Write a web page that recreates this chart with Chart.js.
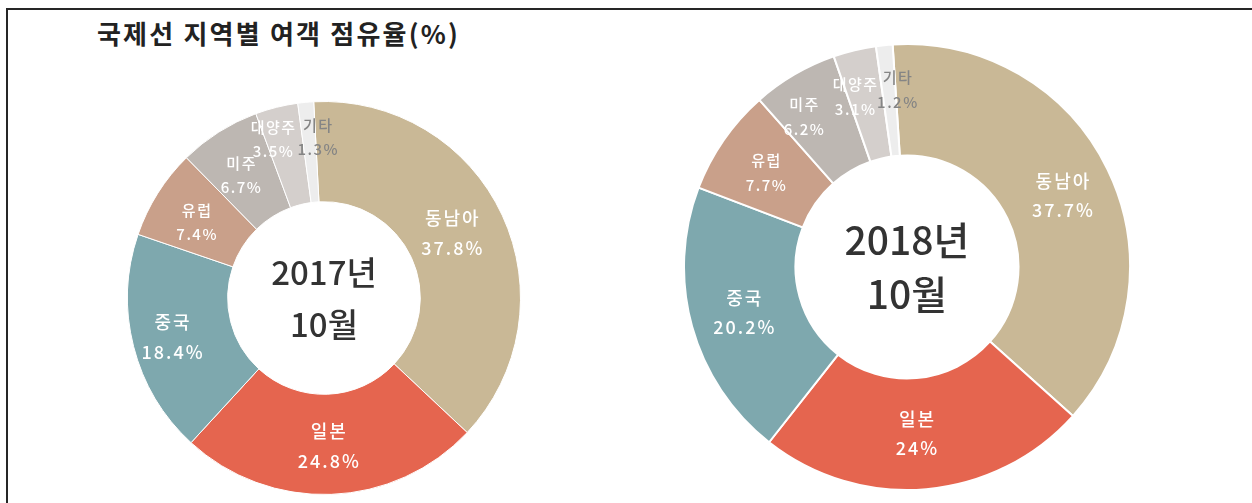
<!DOCTYPE html>
<html>
<head>
<meta charset="utf-8">
<script src="https://cdn.jsdelivr.net/npm/chart.js@4/dist/chart.umd.min.js"></script>
<style>
  html, body { margin:0; padding:0; background:#fff; width:1252px; height:503px; overflow:hidden; }
  #frame { position:absolute; left:6px; top:8px; width:1300px; height:600px; border-left:2px solid #262626; border-top:2px solid #262626; }
  #title { position:absolute; left:97px; top:19px; font: bold 26px "Noto Sans CJK KR", sans-serif; line-height:28px; color:#222; letter-spacing:2.2px; white-space:nowrap; }
  canvas { position:absolute; }
  #c1 { left:127px; top:101px; }
  #c2 { left:683px; top:43px; }
</style>
</head>
<body>
<div id="frame"></div>
<div id="title">국제선 지역별 여객 점유율(%)</div>
<canvas id="c1" width="394" height="394"></canvas>
<canvas id="c2" width="448" height="448"></canvas>
<script>
// ---- data ----
const regions = ['동남아', '일본', '중국', '유럽', '미주', '대양주', '기타'];
const share2017 = [37.8, 24.8, 18.4, 7.4, 6.7, 3.5, 1.3];
const share2018 = [37.7, 24, 20.2, 7.7, 6.2, 3.1, 1.2];
const centerTitle2017 = ['2017년', '10월'];
const centerTitle2018 = ['2018년', '10월'];

// ---- style ----
const sliceColors = ['#C9B896', '#E5654F', '#7EA8AE', '#C9A08A', '#BDB7B2', '#D4CFCC', '#EDEDED'];
const labelColors = ['#ffffff', '#ffffff', '#ffffff', '#ffffff', '#ffffff', '#ffffff', '#858585'];
const FONT = '"Noto Sans CJK KR", "Noto Sans", sans-serif';

const labelPlugin = {
  id: 'sliceLabels',
  afterDatasetsDraw(chart, args, opts) {
    const ctx = chart.ctx;
    const meta = chart.getDatasetMeta(0);
    const ds = chart.data.datasets[0];
    ctx.save();
    ctx.textAlign = 'center';
    ctx.textBaseline = 'middle';
    meta.data.forEach((arc, i) => {
      const p = arc.tooltipPosition();
      const n = opts.nudge[i] || [0, 0];
      const big = i < 3;
      const fs = big ? opts.bigFont : opts.smallFont;
      const gap = big ? opts.bigGap : opts.smallGap;
      const x = p.x + n[0], y = p.y + n[1];
      ctx.fillStyle = labelColors[i];
      ctx.font = '500 ' + fs + 'px ' + FONT;
      ctx.letterSpacing = (big ? 2 : 1.5) + 'px';
      ctx.fillText(chart.data.labels[i], x, y - gap / 2);
      ctx.fillText(ds.data[i] + '%', x, y + gap / 2);
    });
    // centre text
    const a = meta.data[0];
    ctx.letterSpacing = '0px';
    ctx.fillStyle = '#333333';
    ctx.font = '500 ' + opts.centerFont + 'px ' + FONT;
    ctx.fillText(opts.center[0], a.x, a.y - opts.centerGap / 2);
    ctx.fillText(opts.center[1], a.x, a.y + opts.centerGap / 2);
    ctx.restore();
  }
};

function makeChart(id, values, rotation, border, cutout, labelOpts) {
  return new Chart(document.getElementById(id), {
    type: 'doughnut',
    data: {
      labels: regions,
      datasets: [{
        data: values,
        backgroundColor: sliceColors,
        borderColor: '#ffffff',
        borderWidth: border,
        hoverOffset: 0
      }]
    },
    options: {
      responsive: false,
      animation: false,
      rotation: rotation,
      cutout: cutout,
      layout: { padding: 0 },
      plugins: {
        legend: { display: false },
        tooltip: { enabled: false },
        sliceLabels: labelOpts
      }
    },
    plugins: [labelPlugin]
  });
}

makeChart('c1', share2017, -3, 1, '49%', {
  center: centerTitle2017, centerFont: 33, centerGap: 52,
  bigFont: 18, smallFont: 15, bigGap: 30, smallGap: 24,
  nudge: [[-4, -3], [0, 2], [-9, 3], [-3, 2], [-4, 1], [-15, -17], [8, -15]]
});
makeChart('c2', share2018, -3.7, 2, '50%', {
  center: centerTitle2018, centerFont: 39, centerGap: 54,
  bigFont: 18, smallFont: 15, bigGap: 29, smallGap: 25,
  nudge: [[6, 2], [-4, 0], [-1, 1], [-3, 1], [-18, -6], [-12, -8], [8, -11]]
});
</script>
</body>
</html>
